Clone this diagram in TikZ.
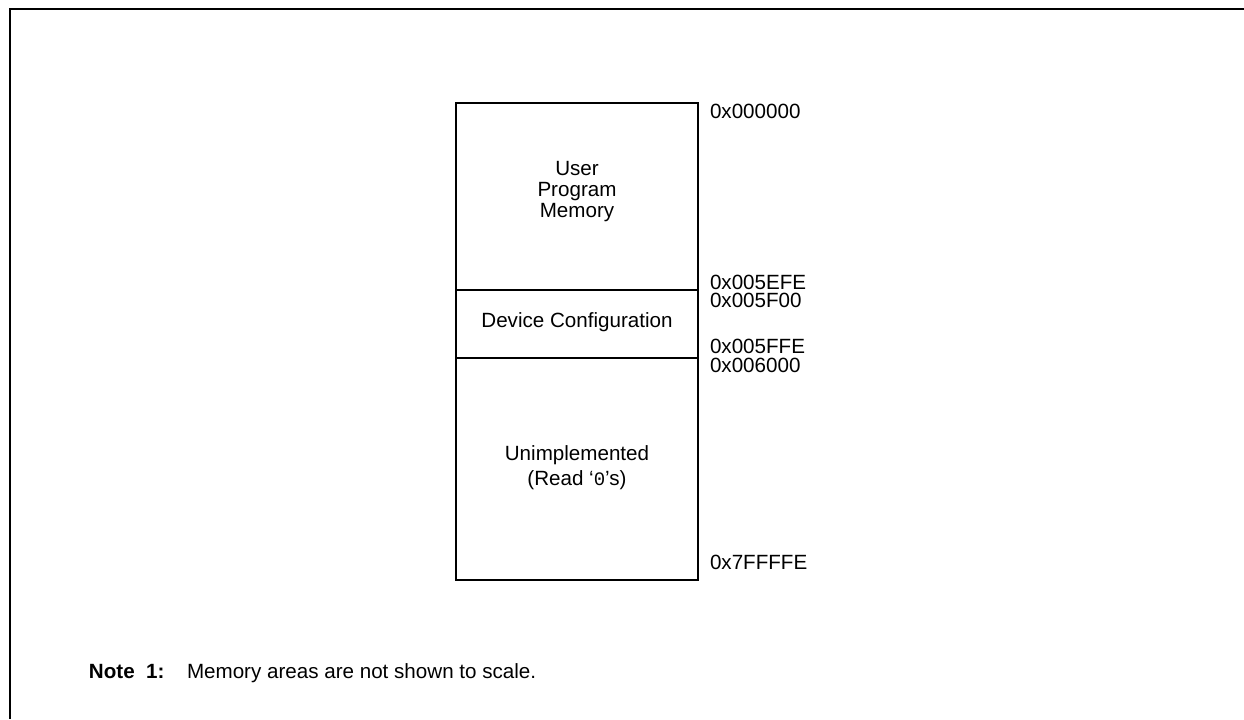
\documentclass[tikz,border=0pt]{standalone}
\usepackage{fontspec}
\setmainfont{Liberation Sans}
\setmonofont{Liberation Mono}
\usetikzlibrary{positioning}

\tikzset{
  every node/.style={inner sep=0pt, outer sep=0pt},
  region/.style={line width=1pt},
  regiontext/.style={anchor=base, font=\fontsize{10.3}{12}\selectfont},
  addr/.style={anchor=base west, font=\fontsize{10.3}{12}\selectfont}
}

\begin{document}
\begin{tikzpicture}[x=0.5pt, y=-0.5pt]

\useasboundingbox (0,0) rectangle (1244,719);

% frame
\coordinate (FTR) at (1244,9);
\coordinate (FTL) at (9.5,9);
\coordinate (FBL) at (9.5,719);
\draw [line width=1pt] (FTR) -- (FTL) -- (FBL);

% memory map
\coordinate (A1) at (456,103);
\coordinate (B1) at (698,103);
\coordinate (A2) at (456,290);
\coordinate (B2) at (698,290);
\coordinate (A3) at (456,357.5);
\coordinate (B3) at (698,357.5);
\coordinate (A4) at (456,580);
\coordinate (B4) at (698,580);

\draw [region] (A1) rectangle (B4);
\draw [region] (A2) -- (B2);
\draw [region] (A3) -- (B3);

\node [regiontext] (user1) at (577,175) {User};
\node [regiontext] (user2) at (577,196) {Program};
\node [regiontext] (user3) at (577,217) {Memory};
\node [regiontext] (config) at (577,327.5) {Device Configuration};
\node [regiontext] (unimpl1) at (577,460) {Unimplemented};
\node [regiontext] (unimpl2) at (577,485) {(Read ‘{\ttfamily\fontsize{9.5}{12}\selectfont 0}’s)};

% addresses
\node [addr] (ad1) at (710,118) {0x000000};
\node [addr] (ad2) at (710,289.5) {0x005EFE};
\node [addr] (ad3) at (710,307.5) {0x005F00};
\node [addr] (ad4) at (710,353.5) {0x005FFE};
\node [addr] (ad5) at (710,372) {0x006000};
\node [addr] (ad6) at (710,569) {0x7FFFFE};

% note
\node [addr] (notehead) at (89,678) {\bfseries Note\ \ 1:};
\node [addr] (notetext) at (187,678) {Memory areas are not shown to scale.};

\end{tikzpicture}
\end{document}
